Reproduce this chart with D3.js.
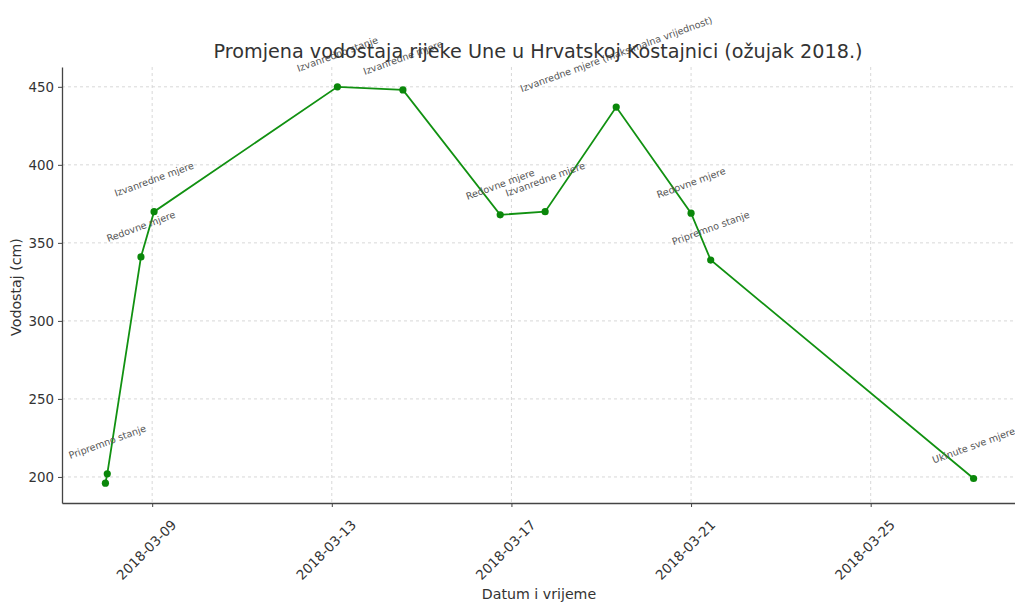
<!DOCTYPE html>
<html>
<head>
<meta charset="utf-8">
<script src="https://cdn.jsdelivr.net/npm/d3@7"></script>
<style>
  html, body { margin: 0; padding: 0; background: #fff; }
  svg { display: block; font-family: "DejaVu Sans", sans-serif; }
</style>
</head>
<body>
<svg id="chart" width="1015" height="604"></svg>
<script>
// ---- data ----
const dates = [
  "2018-03-07T23:00", "2018-03-08T00:00", "2018-03-08T18:00", "2018-03-09T01:00",
  "2018-03-13T03:00", "2018-03-14T14:00", "2018-03-16T18:00", "2018-03-17T18:00",
  "2018-03-19T08:00", "2018-03-21T00:00", "2018-03-21T10:30", "2018-03-27T07:00"
];
const levels = [196, 202, 341, 370, 450, 448, 368, 370, 437, 369, 339, 199];
const notes = [
  "", "Pripremno stanje", "Redovne mjere", "Izvanredne mjere",
  "Izvanredno stanje", "Izvanredne mjere", "Redovne mjere", "Izvanredne mjere",
  "Izvanredne mjere (maksimalna vrijednost)", "Redovne mjere", "Pripremno stanje", "Ukinute sve mjere"
];
const xTickDates = ["2018-03-09", "2018-03-13", "2018-03-17", "2018-03-21", "2018-03-25"];
const yTicks = [200, 250, 300, 350, 400, 450];
const titleText = "Promjena vodostaja rijeke Une u Hrvatskoj Kostajnici (ožujak 2018.)";
const xLabel = "Datum i vrijeme";
const yLabel = "Vodostaj (cm)";

// ---- layout ----
const svg = d3.select("#chart");
const padL = 62, padR = 1017, padT = 67, padB = 503;
const parse = d3.timeParse("%Y-%m-%dT%H:%M");
const parseDay = d3.timeParse("%Y-%m-%d");
const data = dates.map((d, i) => ({ t: parse(d), v: levels[i], note: notes[i] }));

const tExt = d3.extent(data, d => d.t);
const tPad = (tExt[1] - tExt[0]) * 0.05;
const x = d3.scaleTime()
  .domain([new Date(+tExt[0] - tPad), new Date(+tExt[1] + tPad)])
  .range([padL, padR]);
const vExt = d3.extent(levels);
const vPad = (vExt[1] - vExt[0]) * 0.05;
const y = d3.scaleLinear().domain([vExt[0] - vPad, vExt[1] + vPad]).range([padB, padT]);

const xt = xTickDates.map(parseDay);

// grid
const grid = svg.append("g");
grid.selectAll(".gx").data(xt).join("line")
  .attr("x1", d => x(d)).attr("x2", d => x(d)).attr("y1", padT).attr("y2", padB)
  .attr("stroke", "#d4d4d4").attr("stroke-width", 0.9).attr("stroke-dasharray", "3,3");
grid.selectAll(".gy").data(yTicks).join("line")
  .attr("x1", padL).attr("x2", padR).attr("y1", d => y(d)).attr("y2", d => y(d))
  .attr("stroke", "#d4d4d4").attr("stroke-width", 0.9).attr("stroke-dasharray", "3,3");

// axes
const xAxis = d3.axisBottom(x).tickValues(xt).tickFormat(d3.timeFormat("%Y-%m-%d"))
  .tickSize(4).tickSizeOuter(0).tickPadding(4);
const gx = svg.append("g").attr("transform", `translate(0,${padB})`).call(xAxis);
gx.select(".domain").attr("stroke", "#444").attr("stroke-width", 1.3);
gx.selectAll(".tick line").attr("stroke", "#444");
gx.selectAll(".tick text")
  .attr("font-size", 13.4).attr("fill", "#333").attr("font-family", "DejaVu Sans, sans-serif")
  .attr("text-anchor", "middle").attr("dy", null).attr("y", null)
  .attr("dominant-baseline", "central")
  .attr("transform", "translate(-6,47) rotate(-45)");

const yAxis = d3.axisLeft(y).tickValues(yTicks).tickSize(4).tickSizeOuter(0).tickPadding(4);
const gy = svg.append("g").attr("transform", `translate(${padL},0)`).call(yAxis);
gy.select(".domain").attr("stroke", "#444").attr("stroke-width", 1.3);
gy.selectAll(".tick line").attr("stroke", "#444");
gy.selectAll(".tick text").attr("font-size", 13.4).attr("fill", "#333")
  .attr("font-family", "DejaVu Sans, sans-serif");

// line + markers
const line = d3.line().x(d => x(d.t)).y(d => y(d.v));
svg.append("path").datum(data).attr("d", line)
  .attr("fill", "none").attr("stroke", "#119111").attr("stroke-width", 1.8);
svg.selectAll(".pt").data(data).join("circle")
  .attr("cx", d => x(d.t)).attr("cy", d => y(d.v)).attr("r", 3.6)
  .attr("fill", "#0a870a");

// annotations
const ang = 20 * Math.PI / 180;
const ann = svg.append("g");
data.filter(d => d.note).forEach(d => {
  const t = ann.append("text").text(d.note)
    .attr("font-size", 9.6).attr("fill", "#555")
    .attr("text-anchor", "middle").attr("dominant-baseline", "central");
  const L = t.node().getComputedTextLength();
  const h = 11;
  const H = L * Math.sin(ang) + h * Math.cos(ang);
  const cx = x(d.t), cy = y(d.v) - 13 - H / 2;
  t.attr("transform", `translate(${cx},${cy}) rotate(-20)`);
});

// title + labels
svg.append("text").text(titleText).attr("x", 538).attr("y", 58)
  .attr("text-anchor", "middle").attr("font-size", 19.2).attr("fill", "#333");
svg.append("text").text(xLabel).attr("x", 539).attr("y", 599)
  .attr("text-anchor", "middle").attr("font-size", 14.2).attr("fill", "#333");
svg.append("text").text(yLabel).attr("transform", "translate(21,287) rotate(-90)")
  .attr("text-anchor", "middle").attr("font-size", 14.2).attr("fill", "#333");
</script>
</body>
</html>
